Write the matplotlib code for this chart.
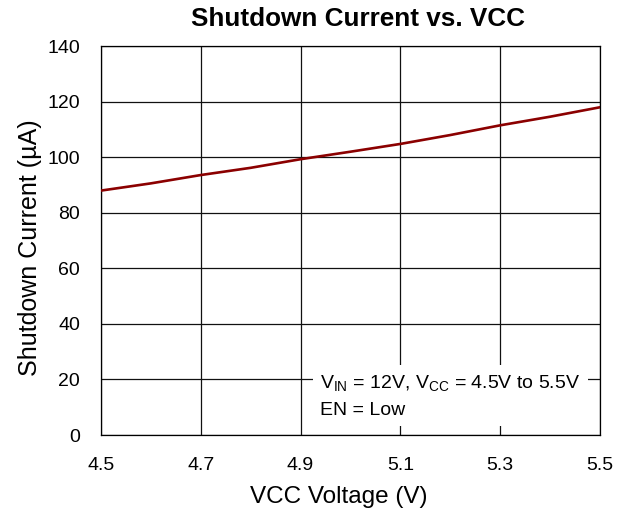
import matplotlib

matplotlib.use("Agg")
import matplotlib.pyplot as plt

plt.rcParams["font.family"] = ["Liberation Sans", "DejaVu Sans"]

vcc = [4.5, 4.6, 4.7, 4.8, 4.9, 5.0, 5.1, 5.2, 5.3, 5.4, 5.5]
i_sd = [88.0, 90.6, 93.6, 96.2, 99.3, 102.0, 104.8, 108.0, 111.5, 114.6, 118.0]

x_ticks = [4.5, 4.7, 4.9, 5.1, 5.3, 5.5]
y_ticks = [0, 20, 40, 60, 80, 100, 120, 140]

LINE_COLOR = "#8b0000"

fig = plt.figure(figsize=(6.23, 5.13), dpi=100)
ax = fig.add_axes([0.162, 0.152, 0.801, 0.758])

ax.plot(vcc, i_sd, color=LINE_COLOR, linewidth=1.9, zorder=3)

ax.set_xlim(4.5, 5.5)
ax.set_ylim(0, 140)
ax.set_xticks(x_ticks)
ax.set_xticklabels([f"{v:.1f}" for v in x_ticks])
ax.set_yticks(y_ticks)
ax.tick_params(length=0, labelsize=14)
ax.tick_params(axis="x", pad=16)
ax.tick_params(axis="y", pad=15)
ax.grid(True, color="#111111", linewidth=0.9)
for s in ax.spines.values():
    s.set_color("black")
    s.set_linewidth(0.9)

ax.set_xlabel("VCC Voltage (V)", fontsize=17.5)
ax.set_ylabel("Shutdown Current (\u00b5A)", fontsize=18)
# label positions matched to the original layout (axes fractions)
ax.xaxis.set_label_coords(0.477, -0.131)
ax.yaxis.set_label_coords(-0.118, 0.482)

fig.text(358 / 623, 1 - 19 / 513, "Shutdown Current vs. VCC",
         ha="center", va="center", fontsize=18.8, fontweight="bold")

ax.text(0.44, 0.158,
        "V$_{\\mathregular{IN}}$ = 12V, V$_{\\mathregular{CC}}$ = 4.5V to 5.5V\nEN = Low",
        transform=ax.transAxes, ha="left", va="top", fontsize=14,
        linespacing=1.6,
        bbox=dict(boxstyle="square,pad=0.4", facecolor="white",
                  edgecolor="none"),
        zorder=4)

fig.savefig("out.png", dpi=100)
